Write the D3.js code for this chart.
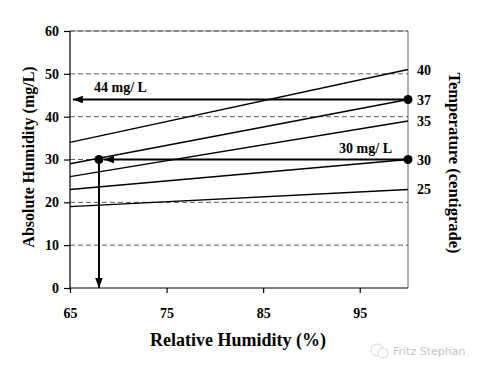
<!DOCTYPE html>
<html><head><meta charset="utf-8">
<script src="https://cdn.jsdelivr.net/npm/d3@7"></script>
<style>body{margin:0;background:#fff}</style>
</head><body>
<svg id="c" width="486" height="372"></svg>
<script>
const xTicks = [65, 75, 85, 95];
const yTicks = [0, 10, 20, 30, 40, 50, 60];
const temps = [25, 30, 35, 37, 40];
const startVals = [19, 23, 26, 29, 34];
const endVals = [23, 30, 39, 44, 51];
const arrows = [
  {label: "44 mg/ L", y: 44, fromX: 100, toX: 65.3},
  {label: "30 mg/ L", y: 30, fromX: 100, toX: 68}
];
const startRH = 65, endRH = 100, dropRH = 68;

const svg = d3.select("#c");
const L = 70, R = 408, T = 31, B = 288;
const x = d3.scaleLinear().domain([65, 100]).range([L, R]);
const y = d3.scaleLinear().domain([0, 60]).range([B, T]);
const font = "'Liberation Serif', 'Times New Roman', serif";

const defs = svg.append("defs");
defs.append("marker").attr("id", "ah").attr("viewBox", "0 0 10 10")
  .attr("refX", 10).attr("refY", 5).attr("markerWidth", 5).attr("markerHeight", 3.8)
  .attr("markerUnits", "strokeWidth").attr("orient", "auto")
  .attr("preserveAspectRatio", "none")
  .append("path").attr("d", "M0,0 L10,5 L0,10 Z").attr("fill", "#000");

// top and right border gray
svg.append("line").attr("x1", L).attr("x2", R).attr("y1", T).attr("y2", T)
  .attr("stroke", "#aaa").attr("stroke-width", 1.5);
svg.append("line").attr("x1", R).attr("x2", R).attr("y1", T).attr("y2", B)
  .attr("stroke", "#999").attr("stroke-width", 1.5);

// gridlines
svg.append("g").selectAll("line").data(yTicks.filter(d => d > 0)).join("line")
  .attr("x1", L).attr("x2", R).attr("y1", d => y(d)).attr("y2", d => y(d))
  .attr("stroke", "#333").attr("stroke-width", 0.8).attr("stroke-dasharray", "5,3");

// axes
const yAxis = svg.append("g").attr("transform", `translate(${L},0)`)
  .call(d3.axisLeft(y).tickValues(yTicks).tickSize(6).tickPadding(5));
const xAxis = svg.append("g").attr("transform", `translate(0,${B})`)
  .call(d3.axisBottom(x).tickValues(xTicks).tickSize(5).tickPadding(15));
[yAxis, xAxis].forEach(g => {
  g.select(".domain").attr("stroke", "#000").attr("stroke-width", 1.2);
  g.selectAll(".tick line").attr("stroke", "#000").attr("stroke-width", 1.2);
  g.selectAll("text").attr("font-family", font).attr("font-weight", "bold")
    .attr("font-size", 14).attr("fill", "#000");
});
xAxis.select(".domain").attr("d", `M${L},0H${R}`);
yAxis.select(".domain").attr("d", `M0,${B}V${T}`);

// temperature lines
svg.append("g").selectAll("line").data(temps).join("line")
  .attr("x1", x(startRH)).attr("x2", x(endRH))
  .attr("y1", (d, i) => y(startVals[i])).attr("y2", (d, i) => y(endVals[i]))
  .attr("stroke", "#000").attr("stroke-width", 1.4);

// right temperature labels
svg.append("g").selectAll("text").data(temps).join("text")
  .attr("x", R + 9).attr("y", (d, i) => y(endVals[i]) + 5)
  .attr("font-family", font).attr("font-weight", "bold").attr("font-size", 14)
  .text(d => d);

// arrows
arrows.forEach((a, i) => {
  svg.append("line").attr("x1", x(a.fromX)).attr("x2", x(a.toX) + (i === 1 ? 5 : 0))
    .attr("y1", y(a.y)).attr("y2", y(a.y))
    .attr("stroke", "#000").attr("stroke-width", 2).attr("marker-end", "url(#ah)");
  svg.append("circle").attr("cx", x(a.fromX)).attr("cy", y(a.y)).attr("r", 4.5);
});
svg.append("text").attr("x", 94).attr("y", y(44) - 8)
  .attr("font-family", font).attr("font-weight", "bold").attr("font-size", 14).text(arrows[0].label);
svg.append("text").attr("x", 392).attr("y", y(30) - 7).attr("text-anchor", "end")
  .attr("font-family", font).attr("font-weight", "bold").attr("font-size", 14).text(arrows[1].label);

// drop arrow
svg.append("line").attr("x1", x(dropRH)).attr("x2", x(dropRH))
  .attr("y1", y(30)).attr("y2", y(0))
  .attr("stroke", "#000").attr("stroke-width", 2).attr("marker-end", "url(#ah)");
svg.append("circle").attr("cx", x(dropRH)).attr("cy", y(30)).attr("r", 4.5);

// titles
svg.append("text").attr("transform", `translate(34,157) rotate(-90)`)
  .attr("text-anchor", "middle").attr("font-family", font).attr("font-weight", "bold")
  .attr("font-size", 16).text("Absolute Humidity (mg/L)");
svg.append("text").attr("transform", `translate(449,163) rotate(90)`)
  .attr("text-anchor", "middle").attr("font-family", font).attr("font-weight", "bold")
  .attr("font-size", 16.5).text("Temperature (centigrade)");
svg.append("text").attr("x", 238).attr("y", 346)
  .attr("text-anchor", "middle").attr("font-family", font).attr("font-weight", "bold")
  .attr("font-size", 18).text("Relative Humidity (%)");

// watermark
const wm = svg.append("g").attr("opacity", 0.5);
wm.append("circle").attr("cx", 377).attr("cy", 350).attr("r", 6).attr("fill", "none").attr("stroke", "#aaa").attr("stroke-width", 1);
wm.append("circle").attr("cx", 383).attr("cy", 353).attr("r", 5).attr("fill", "#fff").attr("stroke", "#aaa").attr("stroke-width", 1);
wm.append("text").attr("x", 393).attr("y", 355).attr("font-family", "'DejaVu Sans', sans-serif")
  .attr("font-size", 11).attr("fill", "#888").text("Fritz Stephan");
</script>
</body></html>
